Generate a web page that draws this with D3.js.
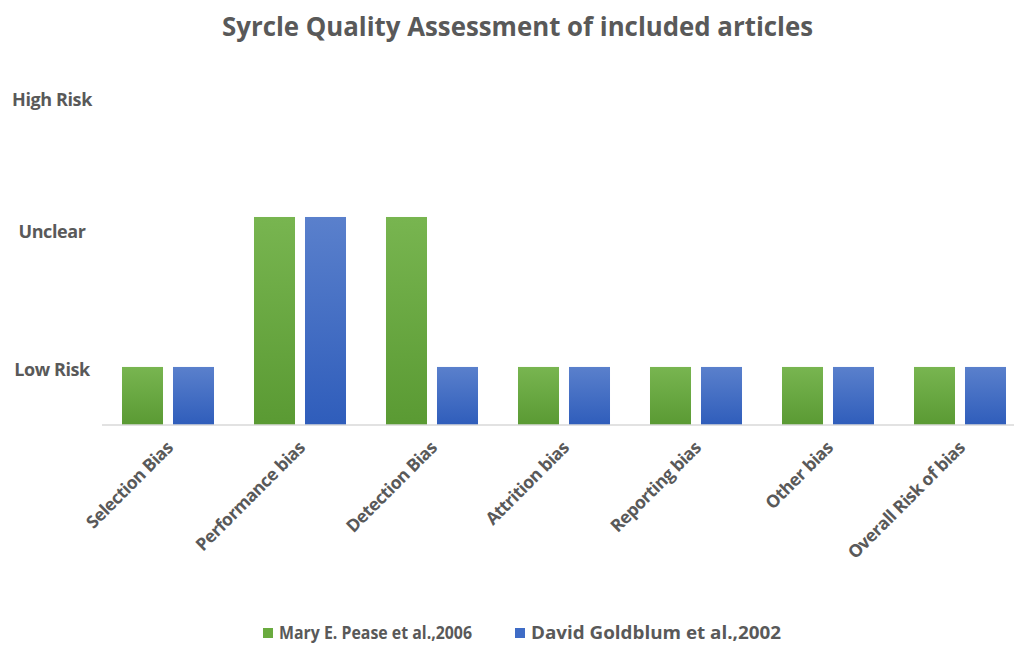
<!DOCTYPE html>
<html><head><meta charset="utf-8">
<script src="https://cdn.jsdelivr.net/npm/d3@7"></script>
<style>body{margin:0;background:#fff}svg{display:block}text{font-family:"Open Sans",sans-serif;font-weight:700;fill:#595959}</style>
</head><body><svg id="c" width="1014" height="645"></svg>
<script>
const categories = ["Selection Bias","Performance bias","Detection Bias","Attrition bias","Reporting bias","Other bias","Overall Risk of bias"];
const seriesNames = ["Mary E. Pease et al.,2006","David Goldblum et al.,2002"];
const peaseValues = [1,2,2,1,1,1,1];
const goldblumValues = [1,2,1,1,1,1,1];
const riskLabels = ["Low Risk","Unclear","High Risk"];
const riskLabelValues = [0.98,1.9,2.78];
const title = "Syrcle Quality Assessment of included articles";

const svg = d3.select("#c");
const defs = svg.append("defs");
const grads = [["g0","#78b550","#5a9a33"],["g1","#5a80cc","#2f5dbb"]];
grads.forEach(([id,a,b])=>{
  const g = defs.append("linearGradient").attr("id",id).attr("x1",0).attr("y1",0).attr("x2",0).attr("y2",1);
  g.append("stop").attr("offset","0%").attr("stop-color",a);
  g.append("stop").attr("offset","100%").attr("stop-color",b);
});
const solid = ["#6aab3f","#3f6cc6"];

const x0 = d3.scaleBand().domain(categories).range([102,1026]).paddingInner(0.303).paddingOuter(0.1515);
const x1 = d3.scaleBand().domain(seriesNames).range([0,x0.bandwidth()]).paddingInner(0.196);
const y = d3.scaleLinear().domain([0.613,3]).range([425,67]);

function fit(sel,w){ sel.each(function(){ if(this.getComputedTextLength()>0) d3.select(this).attr("textLength",w).attr("lengthAdjust","spacingAndGlyphs"); }); }

svg.append("text").attr("x",517.5).attr("y",36).attr("text-anchor","middle").attr("font-size",27).text(title).call(fit,591);

const rows = categories.map((c,i)=>({c, v:[peaseValues[i],goldblumValues[i]]}));
const g = svg.append("g");
rows.forEach(r=>{
  seriesNames.forEach((s,j)=>{
    g.append("rect").attr("x",x0(r.c)+x1(s)).attr("width",x1.bandwidth())
      .attr("y",y(r.v[j])).attr("height",y(0.613)-y(r.v[j]))
      .attr("fill",`url(#g${j})`);
  });
});

const xAxis = svg.append("g").attr("transform","translate(0,425)").call(d3.axisBottom(x0).tickSize(0).tickPadding(0));
xAxis.select(".domain").attr("stroke","#d9d9d9").attr("stroke-width",1.5).attr("d","M102,0H1026");
xAxis.selectAll(".tick text").attr("font-size",17.5).attr("font-family","Open Sans").attr("font-weight",700).attr("fill","#595959")
  .attr("text-anchor","end").attr("dy",0).attr("transform","translate(6,24) rotate(-45)").attr("letter-spacing",-0.5);

const yl = svg.append("g");
riskLabels.forEach((t,i)=>{
  yl.append("text").attr("x",52).attr("y",y(riskLabelValues[i])+6).attr("text-anchor","middle").attr("font-size",18).attr("letter-spacing",-0.4).text(t);
});

const leg = svg.append("g");
const legX = [263,515], legW=[193,250];
seriesNames.forEach((s,j)=>{
  leg.append("rect").attr("x",legX[j]).attr("y",628).attr("width",10).attr("height",10).attr("fill",solid[j]);
  leg.append("text").attr("x",legX[j]+16).attr("y",639).attr("font-size",17).text(s).call(fit,legW[j]);
});
</script></body></html>
